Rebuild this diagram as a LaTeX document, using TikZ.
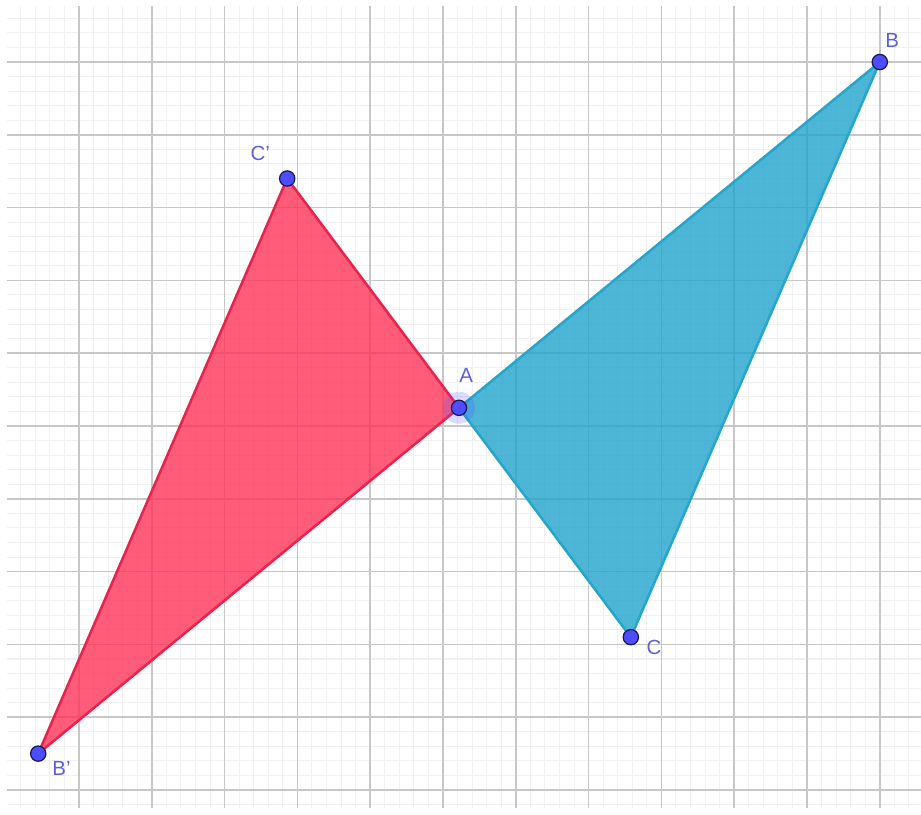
\documentclass[tikz,border=0pt]{standalone}
\usepackage{fontspec}
\setmainfont{Liberation Sans}
\definecolor{ggbRed}{RGB}{255, 51, 89}
\definecolor{ggbRedEdge}{RGB}{232, 36, 78}
\definecolor{ggbBlue}{RGB}{32, 164, 204}
\definecolor{ggbBlueEdge}{RGB}{38, 166, 202}
\definecolor{ggbPoint}{RGB}{77, 77, 255}
\definecolor{ggbPointEdge}{RGB}{26, 26, 90}
\definecolor{ggbLabel}{RGB}{96, 96, 216}
\usepackage{tikz}

\begin{document}
\begin{tikzpicture}[
    minorGrid/.style={black!6, line width=0.4pt},
    majorGrid/.style={black!22, line width=0.6pt},
    triRed/.style={draw=ggbRedEdge, fill=ggbRed, fill opacity=0.8, line width=1pt, line join=round},
    triBlue/.style={draw=ggbBlueEdge, fill=ggbBlue, fill opacity=0.8, line width=1pt, line join=round},
    pt/.style={circle, fill=ggbPoint, draw=ggbPointEdge, line width=0.5pt, inner sep=0pt, minimum size=2.1mm},
    ptlabel/.style={font=\footnotesize, text=ggbLabel, inner sep=0pt},
  ]
    \useasboundingbox (-1.085,0.852) rectangle (11.566,-10.33);

    % Grid
    \draw[minorGrid, step=0.2] (-0.99,-10.25) grid (11.566,0.77);
    \draw[majorGrid, step=1] (-0.99,-10.25) grid (11.566,0.77);

    % Points
    \coordinate (A) at (5.22,-4.75);
    \coordinate (B) at (11,0);
    \coordinate (C) at (7.58,-7.9);
    \coordinate (B') at (-0.56,-9.5);
    \coordinate (C') at (2.86,-1.6);

    % Triangles
    \filldraw[triBlue] (A) -- (B) -- (C) -- cycle;
    \filldraw[triRed] (A) -- (B') -- (C') -- cycle;

    % Vertices
    \fill[ggbPoint, opacity=0.2] (A) circle (0.22);
    \foreach \p in {A, B, C, B', C'} {
      \node[pt] (pt\p) at (\p) {};
    }

    % Labels
    \node[ptlabel] (lA) at ([shift={(0.1,0.45)}]A) {A};
    \node[ptlabel] (lB) at ([shift={(0.17,0.3)}]B) {B};
    \node[ptlabel] (lC) at ([shift={(0.32,-0.14)}]C) {C};
    \node[ptlabel] (lB') at ([shift={(0.32,-0.21)}]B') {B'};
    \node[ptlabel] (lC') at ([shift={(-0.37,0.34)}]C') {C'};
\end{tikzpicture}
\end{document}
